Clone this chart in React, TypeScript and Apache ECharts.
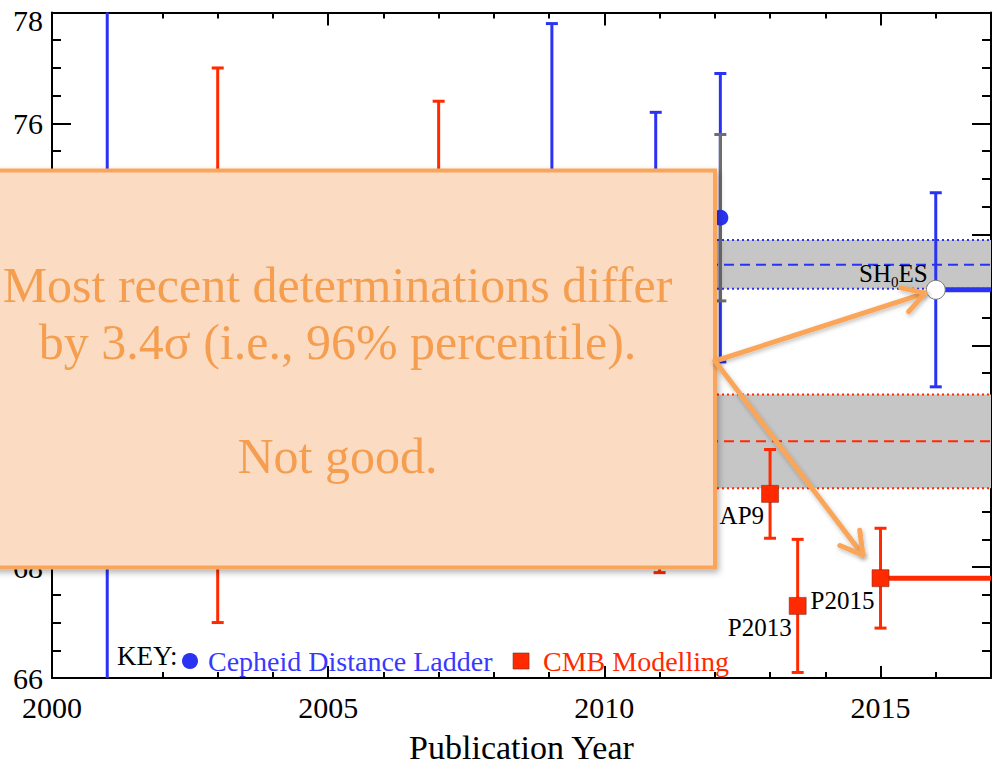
import React, { useEffect, useRef } from 'react';
import * as echarts from 'echarts';

const SERIF = "'Liberation Serif', 'Times New Roman', Times, serif";

// Axis ranges
const X_MIN = 2000;
const X_MAX = 2017;
const X_MAJOR = 5;
const Y_MIN = 66;
const Y_MAX = 78;
const Y_MAJOR = 2;

// Cepheid distance-ladder determinations of H0 (km/s/Mpc)
const cepheidYears = [2001, 2009.05, 2010.93, 2012.1, 2016];
const cepheidH0 = [72.0, 74.2, 73.8, 74.3, 73.0];
const cepheidErr = [8.0, 3.6, 2.4, 2.6, 1.75];
const cepheidStatErr = [0, 0, 0, 1.5, 0];
const cepheidNames = ['', '', '', '', 'SH0ES'];

// CMB-modelling determinations of H0
const cmbYears = [2003, 2007, 2011, 2013, 2013.5, 2015];
const cmbH0 = [72.0, 73.2, 70.4, 69.32, 67.3, 67.8];
const cmbErr = [5.0, 3.2, 2.5, 0.8, 1.2, 0.9];
const cmbNames = ['', '', '', 'AP9', 'P2013', 'P2015'];

// Latest result of each method, carried on to the present
const latestNames = ['SH0ES', 'P2015'];

// Combined bands: [low, mean, high]
const cepheidBand = [73.02, 73.45, 73.9];
const cmbBand = [69.42, 70.27, 71.11];

const BLUE = '#2b33f2';
const BLUE_TEXT = '#3838ff';
const RED = '#ff2a00';
const GRAY_BAR = '#6f6f6f';
const BAND = '#c6c6c6';
const ORANGE = '#f9a65a';
const ORANGE_TEXT = '#f59e50';
const PEACH = '#fbdcc2';

// Layout of the plot area and of the annotation panel laid over it
const GRID = { left: 52, right: 2, top: 12.5, bottom: 81 };
const CHART_H = 769;
const BOX = { x: -40, y: 170.5, w: 755, h: 397 };

// Tick values whose labels sit entirely behind the annotation panel
const plotH = CHART_H - GRID.top - GRID.bottom;
const tickPixelY = (v: number) => GRID.top + ((Y_MAX - v) / (Y_MAX - Y_MIN)) * plotH;
const coveredByBox = (v: number) => tickPixelY(v) - 12 > BOX.y && tickPixelY(v) + 12 < BOX.y + BOX.h;

function pushBar(children: any[], api: any, x: number, y: number, e: number, color: string) {
  const hi = Math.min(y + e, Y_MAX);
  const lo = Math.max(y - e, Y_MIN);
  const [px, pHi] = api.coord([x, hi]);
  const pLo = api.coord([x, lo])[1];
  const style = { stroke: color, lineWidth: 3 };
  children.push({ type: 'line', shape: { x1: px, y1: pHi, x2: px, y2: pLo }, style });
  if (y + e <= Y_MAX) {
    children.push({ type: 'line', shape: { x1: px - 6, y1: pHi, x2: px + 6, y2: pHi }, style });
  }
  if (y - e >= Y_MIN) {
    children.push({ type: 'line', shape: { x1: px - 6, y1: pLo, x2: px + 6, y2: pLo }, style });
  }
}

function pointLabel(name: string, px: number, py: number, above: boolean) {
  if (above) {
    return {
      type: 'text',
      x: px - 8,
      y: py - 2,
      style: {
        text: name.replace('H0', 'H{sub|0}'),
        fill: '#000',
        fontSize: 25,
        fontFamily: SERIF,
        lineHeight: 28,
        align: 'right',
        verticalAlign: 'bottom',
        rich: {
          sub: { fontSize: 15, fontFamily: SERIF, lineHeight: 15, padding: [15, 0, 0, 0], verticalAlign: 'top', fill: '#000' },
        },
      },
      z2: 20,
    };
  }
  return {
    type: 'text',
    x: px - 6,
    y: py + 22,
    style: {
      text: name,
      fill: '#000',
      fontSize: 25,
      fontFamily: SERIF,
      align: 'right',
      verticalAlign: 'middle',
    },
    z2: 20,
  };
}

const renderCepheid = (params: any, api: any) => {
  const i = params.dataIndex;
  const x = api.value(0);
  const y = api.value(1);
  const cs = params.coordSys;
  const [px, py] = api.coord([x, y]);
  const children: any[] = [];
  pushBar(children, api, x, y, api.value(2), BLUE);
  const stat = api.value(3);
  if (stat > 0) pushBar(children, api, x, y, stat, GRAY_BAR);
  const name = cepheidNames[i];
  if (latestNames.includes(name)) {
    children.push({
      type: 'line',
      shape: { x1: px, y1: py, x2: cs.x + cs.width, y2: py },
      style: { stroke: BLUE, lineWidth: 5 },
    });
  }
  if (name) {
    children.push({ type: 'circle', shape: { cx: px, cy: py, r: 9.5 }, style: { fill: '#fff', stroke: '#777', lineWidth: 1 } });
    children.push(pointLabel(name, px, py, true));
  } else {
    children.push({ type: 'circle', shape: { cx: px, cy: py, r: 8 }, style: { fill: BLUE } });
  }
  return { type: 'group', children };
};

const renderCmb = (params: any, api: any) => {
  const i = params.dataIndex;
  const x = api.value(0);
  const y = api.value(1);
  const cs = params.coordSys;
  const [px, py] = api.coord([x, y]);
  const children: any[] = [];
  pushBar(children, api, x, y, api.value(2), RED);
  const name = cmbNames[i];
  if (latestNames.includes(name)) {
    children.push({
      type: 'line',
      shape: { x1: px, y1: py, x2: cs.x + cs.width, y2: py },
      style: { stroke: RED, lineWidth: 5 },
    });
  }
  children.push({
    type: 'rect',
    shape: { x: px - 8.5, y: py - 8.5, width: 17, height: 17 },
    style: { fill: RED, stroke: 'rgba(120,45,30,0.55)', lineWidth: 1 },
  });
  if (name) children.push(pointLabel(name, px, py, false));
  return { type: 'group', children };
};

const bandColors = [BLUE, RED];

const renderBand = (params: any, api: any) => {
  const cs = params.coordSys;
  const lo = api.coord([X_MIN, api.value(0)])[1];
  const mid = api.coord([X_MIN, api.value(1)])[1];
  const hi = api.coord([X_MIN, api.value(2)])[1];
  const color = bandColors[params.dataIndex];
  const x1 = cs.x;
  const x2 = cs.x + cs.width;
  return {
    type: 'group',
    children: [
      { type: 'rect', shape: { x: x1, y: hi, width: cs.width, height: lo - hi }, style: { fill: BAND } },
      { type: 'line', shape: { x1, y1: hi, x2, y2: hi }, style: { stroke: color, lineWidth: 2, lineDash: [2, 3] } },
      { type: 'line', shape: { x1, y1: lo, x2, y2: lo }, style: { stroke: color, lineWidth: 2, lineDash: [2, 3] } },
      { type: 'line', shape: { x1, y1: mid, x2, y2: mid }, style: { stroke: color, lineWidth: 2, lineDash: [10, 6] } },
    ],
  };
};

const axisFont = { color: '#000', fontSize: 30, fontFamily: SERIF };

function xAxisDef(position: 'top' | 'bottom', interval: number, tickLen: number, withLabels: boolean, withLine: boolean) {
  return {
    type: 'value',
    position,
    min: X_MIN,
    max: X_MAX,
    interval,
    offset: 0,
    name: withLabels ? 'Publication Year' : '',
    nameLocation: 'middle',
    nameGap: 52,
    nameTextStyle: { color: '#000', fontSize: 34, fontFamily: SERIF },
    axisLine: { show: withLine, onZero: false, lineStyle: { color: '#000', width: 2 } },
    axisTick: { show: true, inside: true, length: tickLen, lineStyle: { color: '#000', width: 2 } },
    axisLabel: withLabels
      ? { show: true, margin: 14, showMaxLabel: false, ...axisFont, formatter: (v: number) => String(v) }
      : { show: false },
    splitLine: { show: false },
  };
}

function yAxisDef(position: 'left' | 'right', withLabels: boolean) {
  return {
    type: 'value',
    position,
    min: Y_MIN,
    max: Y_MAX,
    interval: Y_MAJOR,
    axisLine: { show: true, onZero: false, lineStyle: { color: '#000', width: 2 } },
    axisTick: { show: true, inside: true, length: 19, lineStyle: { color: '#000', width: 2 } },
    minorTick: { show: true, splitNumber: 4, length: 9, lineStyle: { color: '#000', width: 2 } },
    axisLabel: withLabels
      ? {
          show: true,
          margin: 9,
          ...axisFont,
          formatter: (v: number) => {
            if (coveredByBox(v)) return '';
            if (v === Y_MAX) return `{hi|${v}}`;
            return String(v);
          },
          rich: {
            hi: { ...axisFont, padding: [16, 0, 0, 0] },
          },
        }
      : { show: false },
    splitLine: { show: false },
  };
}

export default function App() {
  const ref = useRef<HTMLDivElement>(null);

  useEffect(() => {
    if (!ref.current) return;
    const chart = echarts.init(ref.current, null, { renderer: 'svg' });

    const option: any = {
      animation: false,
      backgroundColor: '#fff',
      grid: { ...GRID, containLabel: false },
      xAxis: [
        xAxisDef('bottom', X_MAJOR, 12, true, true),
        xAxisDef('bottom', 1, 6, false, false),
        xAxisDef('top', X_MAJOR, 13, false, true),
        xAxisDef('top', 1, 6, false, false),
      ],
      yAxis: [yAxisDef('left', true), yAxisDef('right', false)],
      legend: {
        left: 177,
        top: 641,
        orient: 'horizontal',
        itemWidth: 16,
        itemHeight: 16,
        itemGap: 20,
        selectedMode: false,
        textStyle: { fontSize: 28, fontFamily: SERIF, lineHeight: 30, padding: [0, 0, 0, 5] },
        data: [
          { name: 'Cepheid Distance Ladder', icon: 'circle', textStyle: { color: BLUE_TEXT } },
          {
            name: 'CMB Modelling',
            icon: 'rect',
            textStyle: { color: RED, padding: [0, 0, 0, 9] },
            itemStyle: { borderColor: 'rgba(120,45,30,0.6)', borderWidth: 1 },
          },
        ],
      },
      series: [
        {
          name: 'bands',
          type: 'custom',
          z: 1,
          silent: true,
          renderItem: renderBand,
          data: [cepheidBand, cmbBand],
          encode: { x: -1, y: [0, 1, 2] },
        },
        {
          name: 'Cepheid Distance Ladder',
          type: 'custom',
          z: 3,
          itemStyle: { color: BLUE },
          renderItem: renderCepheid,
          data: cepheidYears.map((yr, i) => [yr, cepheidH0[i], cepheidErr[i], cepheidStatErr[i]]),
          encode: { x: 0, y: 1 },
        },
        {
          name: 'CMB Modelling',
          type: 'custom',
          z: 3,
          itemStyle: { color: RED },
          renderItem: renderCmb,
          data: cmbYears.map((yr, i) => [yr, cmbH0[i], cmbErr[i]]),
          encode: { x: 0, y: 1 },
        },
      ],
    };
    chart.setOption(option);

    // Annotation panel with arrows to the two latest results
    const start = [BOX.x + BOX.w, 361];
    const shoesIdx = cepheidNames.indexOf('SH0ES');
    const p15Idx = cmbNames.indexOf('P2015');
    const shoes = chart.convertToPixel({ seriesIndex: 1 }, [cepheidYears[shoesIdx], cepheidH0[shoesIdx]]) as number[];
    const p15 = chart.convertToPixel({ seriesIndex: 2 }, [cmbYears[p15Idx], cmbH0[p15Idx]]) as number[];

    const arrow = (target: number[], stopShort: number) => {
      const dx = target[0] - start[0];
      const dy = target[1] - start[1];
      const len = Math.hypot(dx, dy);
      const ux = dx / len;
      const uy = dy / len;
      const tip = [target[0] - ux * stopShort, target[1] - uy * stopShort];
      const back = Math.atan2(-uy, -ux);
      const arm = 25;
      const spread = (30 * Math.PI) / 180;
      const a1 = [tip[0] + arm * Math.cos(back + spread), tip[1] + arm * Math.sin(back + spread)];
      const a2 = [tip[0] + arm * Math.cos(back - spread), tip[1] + arm * Math.sin(back - spread)];
      const style = {
        stroke: ORANGE,
        lineWidth: 5,
        lineCap: 'round',
        lineJoin: 'round',
        fill: null,
        shadowBlur: 4,
        shadowOffsetX: 1,
        shadowOffsetY: 2,
        shadowColor: 'rgba(0,0,0,0.25)',
      };
      return [
        { type: 'polyline', z: 102, shape: { points: [start, tip] }, style },
        { type: 'polyline', z: 102, shape: { points: [a1, tip, a2] }, style },
      ];
    };

    chart.setOption({
      graphic: [
        {
          type: 'rect',
          z: 100,
          shape: { x: BOX.x, y: BOX.y, width: BOX.w, height: BOX.h },
          style: {
            fill: PEACH,
            stroke: ORANGE,
            lineWidth: 4,
            shadowBlur: 6,
            shadowOffsetX: 2,
            shadowOffsetY: 3,
            shadowColor: 'rgba(0,0,0,0.3)',
          },
        },
        {
          type: 'text',
          z: 101,
          x: BOX.x + BOX.w / 2,
          y: 370,
          style: {
            text: 'Most recent determinations differ\nby 3.4σ (i.e., 96% percentile).\n\nNot good.',
            fill: ORANGE_TEXT,
            fontSize: 50,
            fontFamily: SERIF,
            lineHeight: 57,
            align: 'center',
            textAlign: 'center',
            verticalAlign: 'middle',
            textVerticalAlign: 'middle',
          },
        },
        ...arrow(shoes, 11),
        ...arrow(p15, 29),
        {
          type: 'text',
          z: 50,
          x: 117,
          y: 656,
          style: {
            text: 'KEY:',
            fill: '#000',
            fontSize: 27,
            fontFamily: SERIF,
            align: 'left',
            textAlign: 'left',
            verticalAlign: 'middle',
            textVerticalAlign: 'middle',
          },
        },
      ],
    });

    return () => chart.dispose();
  }, []);

  return (
    <div
      ref={ref}
      style={{ position: 'fixed', left: 0, top: 0, width: 993, height: 769, background: '#fff' }}
    />
  );
}
